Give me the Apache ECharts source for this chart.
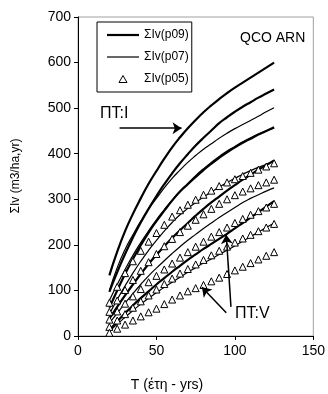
<!DOCTYPE html>
<html>
<head>
<meta charset="utf-8">
<script src="https://cdn.jsdelivr.net/npm/echarts@6/dist/echarts.min.js"></script>
<style>html,body{margin:0;padding:0;background:#fff}#c{width:328px;height:394px}</style>
</head>
<body>
<div id="c"></div>
<script>
// Age T (years)
var T = [20,25,30,35,40,45,50,55,60,65,70,75,80,85,90,95,100,105,110,115,120,125];
// Site class I
var I_p09 = [133,185,230,268,302,334,362,389,414,436,456,474,491,506,520,533,545,556,567,578,589,600];
var I_p07 = [100,150,190,222,252,279,302,325,346,364,381,396,410,422,434,445,455,464,473,482,492,501];
var I_p05 = [73,108,138,164,187,207,226,244,262,276,288,299,310,319,329,337,344,351,358,365,372,379];
// Site class II
var II_p09 = [97,140,180,216,249,279,307,333,357,379,399,418,435,451,467,480,492,503,513,523,532,541];
var II_p07 = [78,113,146,177,205,231,255,277,298,317,335,352,367,381,394,406,416,426,435,443,450,456];
var II_p05 = [53,78,101,123,143,162,180,197,213,228,242,255,267,279,290,300,309,317,324,331,337,343];
// Site class III
var III_p09 = [62,100,136,169,199,227,252,275,297,317,333,349,364,378,391,403,414,424,433,442,450,458];
var III_p07 = [48,80,110,138,164,188,210,230,249,266,280,293,305,316,327,337,346,355,363,370,377,383];
var III_p05 = [36,54,71,87,103,118,132,146,159,172,184,196,207,218,228,238,248,257,266,274,282,290];
// Site class IV
var IV_p09 = [38,64,89,113,136,158,178,197,215,232,248,264,279,293,306,319,331,343,354,365,375,385];
var IV_p07 = [28,50,72,93,113,132,149,165,181,196,210,223,236,248,260,271,282,293,302,310,318,325];
var IV_p05 = [20,34,48,62,76,89,102,114,126,137,147,157,167,177,187,196,205,214,222,230,238,246];
// Site class V
var V_p09 = [13,32,50,67,83,98,113,127,141,154,167,179,191,202,213,224,236,248,260,272,284,296];
var V_p07 = [10,26,41,56,70,83,95,107,118,129,140,150,160,169,179,188,198,208,218,228,238,248];
var V_p05 = [7,16,25,34,43,52,60,70,80,89,98,105,112,120,128,136,144,152,160,168,176,184];

var xTicks = {min:0, max:150, interval:50};
var yTicks = {min:0, max:700, interval:100};
var names = ['ΣIv(p09)','ΣIv(p07)','ΣIv(p05)'];
// annotation anchors in data coordinates [T, V]
var arrowI = [[26.5,456],[66,456]];
var arrowV1 = [[97.5,64],[94.5,222]];
var arrowV2 = [[94.5,51],[79,107]];
var labelI = [14,489];
var labelV = [100,50];

var FONT = 'Liberation Sans, Arial, sans-serif';
function pairs(vals){ return T.map(function(t,i){ return [t, vals[i]]; }); }
var p09 = [I_p09, II_p09, III_p09, IV_p09, V_p09];
var p07 = [I_p07, II_p07, III_p07, IV_p07, V_p07];
var p05 = [I_p05, II_p05, III_p05, IV_p05, V_p05];
var series = [];
p09.forEach(function(v){
  series.push({name:names[0], type:'line', data:pairs(v), smooth:true, symbol:'none',
    lineStyle:{color:'#000', width:2.2}, itemStyle:{color:'#000'}, z:3, silent:true});
});
p07.forEach(function(v){
  series.push({name:names[1], type:'line', data:pairs(v), smooth:true, symbol:'none',
    lineStyle:{color:'#000', width:1.2}, itemStyle:{color:'#000'}, z:3, silent:true});
});
p05.forEach(function(v){
  series.push({name:names[2], type:'line', data:pairs(v), symbol:'triangle', symbolSize:7, showSymbol:true,
    lineStyle:{width:0, opacity:0}, itemStyle:{color:'#fff', borderColor:'#000', borderWidth:1}, z:4, silent:true});
});
function ml(a){ return [{coord:a[0]},{coord:a[1]}]; }
series[0].markLine = {silent:true, symbol:['none','arrow'], symbolSize:9, label:{show:false},
  itemStyle:{color:'#000'},
  lineStyle:{color:'#000', width:1.5, type:'solid'},
  data:[ml(arrowI), ml(arrowV1), ml(arrowV2)], animation:false};

var chart = echarts.init(document.getElementById('c'), null, {renderer:'canvas'});
chart.setOption({
  animation:false,
  backgroundColor:'#fff',
  grid:{left:78, right:12, top:17, bottom:58, show:true, borderColor:'#a0a0a0', borderWidth:1},
  legend:{data:[
      {name:names[0], icon:'path://M0,0H32V2.2H0Z'},
      {name:names[1], icon:'path://M0,0H32V1.2H0Z'},
      {name:names[2], icon:'path://M4,0L8,7L0,7Z', itemStyle:{color:'#fff', borderColor:'#000', borderWidth:1}}],
    orient:'vertical', left:97, top:22, symbolKeepAspect:true,
    backgroundColor:'#fff', borderColor:'#000', borderWidth:1, borderRadius:0,
    padding:[7,3,7,10], itemGap:10, itemWidth:32, itemHeight:7,
    textStyle:{fontFamily:FONT, fontSize:12, color:'#000'}, selectedMode:false},
  xAxis:{type:'value', min:xTicks.min, max:xTicks.max, interval:xTicks.interval,
    axisLine:{lineStyle:{color:'#000', width:1}}, axisTick:{show:true, inside:false, length:4, lineStyle:{color:'#000'}},
    splitLine:{show:false}, axisLabel:{fontFamily:FONT, fontSize:14, color:'#000', margin:8}},
  yAxis:{type:'value', min:yTicks.min, max:yTicks.max, interval:yTicks.interval,
    axisLine:{show:true, lineStyle:{color:'#000', width:1}}, axisTick:{show:true, inside:false, length:4, lineStyle:{color:'#000'}},
    splitLine:{show:false}, axisLabel:{fontFamily:FONT, fontSize:14, color:'#000', margin:7}},
  series:series
});
var pI = chart.convertToPixel({gridIndex:0}, labelI);
var pV = chart.convertToPixel({gridIndex:0}, labelV);
chart.setOption({graphic:[
  {type:'text', left:240, top:31, style:{text:'QCO ARN', fontFamily:FONT, fontSize:14, fill:'#000'}},
  {type:'text', x:pI[0], y:pI[1], style:{text:'ΠΤ:I', fontFamily:FONT, fontSize:16, fill:'#000', textVerticalAlign:'middle'}},
  {type:'text', x:pV[0], y:pV[1], style:{text:'ΠΤ:V', fontFamily:FONT, fontSize:16, fill:'#000', textVerticalAlign:'middle'}},
  {type:'text', x:16, y:176, rotation:Math.PI/2, style:{text:'ΣIv (m3/ha,yr)', fontFamily:FONT, fontSize:12, fill:'#000', textAlign:'center', textVerticalAlign:'middle'}},
  {type:'text', x:167, y:385, style:{text:'T (έτη - yrs)', fontFamily:FONT, fontSize:14, fill:'#000', textAlign:'center', textVerticalAlign:'middle'}}
]});
</script>
</body>
</html>
